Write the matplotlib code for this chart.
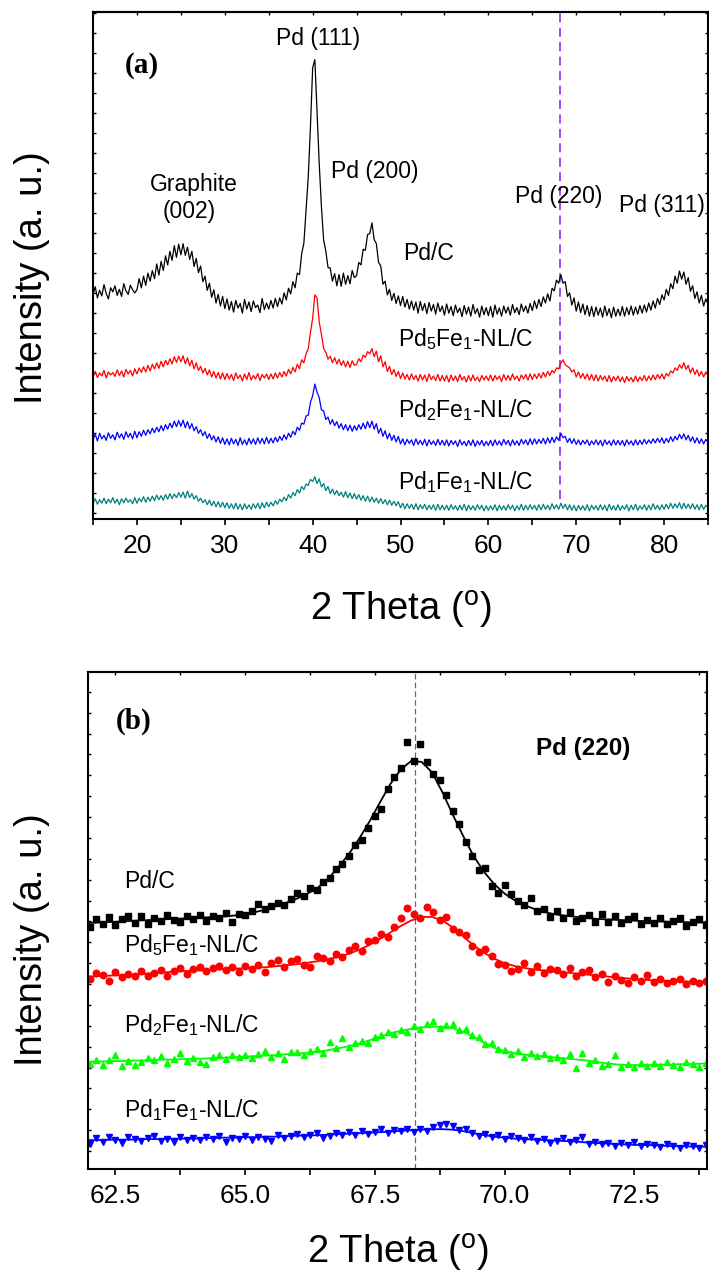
import numpy as np
import matplotlib
matplotlib.use('Agg')
import matplotlib.pyplot as plt
from matplotlib.ticker import MultipleLocator

plt.rcParams['font.family'] = ['Liberation Sans', 'DejaVu Sans']
plt.rcParams['mathtext.fontset'] = 'custom'
plt.rcParams['mathtext.rm'] = 'Liberation Sans'
plt.rcParams['mathtext.it'] = 'Liberation Sans:italic'
plt.rcParams['mathtext.bf'] = 'Liberation Sans:bold'
plt.rcParams['mathtext.default'] = 'regular'

# ---------------- panel (a): full XRD patterns, 15-85 deg, step 0.25 ----------------
two_theta = np.arange(15, 85.001, 0.25)

pd_c = [
    44.2, 45.8, 43.6, 45.1, 44.0, 46.2, 44.5, 43.4, 45.6, 44.8, 46.0, 44.1, 45.3, 43.9, 46.4, 45.0, 44.3, 46.1, 45.2, 44.6,
    45.2, 47.4, 45.6, 47.9, 46.1, 48.5, 46.9, 49.0, 47.4, 50.3, 48.1, 50.8, 49.0, 51.9, 50.1, 52.8, 51.0, 53.9, 51.6, 54.2,
    52.1, 54.3, 52.0, 53.6, 51.2, 52.8, 49.8, 51.4, 48.6, 49.9, 46.8, 47.9, 45.1, 46.5, 43.7, 45.2, 42.6, 44.3, 42.0, 43.9,
    41.5, 43.4, 41.2, 42.9, 40.8, 43.1, 41.6, 42.5, 40.6, 43.3, 41.4, 42.8, 40.9, 43.0, 41.7, 42.2, 40.7, 43.5, 41.3, 42.6,
    41.4, 43.1, 41.6, 43.5, 41.9, 43.6, 42.4, 44.6, 43.2, 45.5, 44.4, 46.8, 45.6, 48.5, 48.2, 52.3, 54.4, 60.8, 67.5, 77.4,
    89.0, 90.6, 80.5, 70.0, 61.5, 55.0, 52.8, 49.6, 49.5, 46.9, 48.4, 46.0, 48.2, 45.9, 48.5, 46.3, 48.0, 46.4, 49.0, 47.6,
    48.0, 50.6, 50.1, 53.2, 53.0, 56.1, 56.3, 58.4, 55.1, 54.3, 50.6, 49.9, 46.3, 46.9, 44.2, 45.3, 43.1, 44.5, 42.5, 44.0,
    42.1, 43.9, 41.8, 43.3, 41.4, 43.0, 41.2, 42.8, 40.6, 42.9, 41.1, 42.5, 40.5, 42.7, 41.0, 42.3, 40.4, 42.6, 40.9, 42.0,
    40.2, 42.4, 40.6, 41.9, 40.1, 42.2, 40.7, 41.6, 39.9, 42.1, 40.4, 41.8, 40.0, 42.3, 40.5, 41.5, 39.8, 42.0, 40.3, 41.7,
    40.1, 41.9, 39.8, 42.2, 40.4, 41.6, 40.0, 42.0, 40.6, 41.8, 40.2, 42.3, 40.7, 41.7, 40.3, 42.4, 40.9, 42.0, 40.6, 42.5,
    41.1, 43.0, 41.5, 43.3, 41.9, 43.8, 42.6, 44.4, 43.0, 45.5, 45.0, 47.1, 46.5, 48.2, 46.5, 46.8, 43.9, 44.6, 42.2, 43.6,
    41.0, 42.8, 40.7, 42.4, 40.3, 42.1, 40.0, 41.9, 39.9, 41.8, 40.2, 41.6, 39.8, 42.0, 40.1, 41.5, 39.7, 41.8, 40.0, 41.4,
    40.1, 41.9, 40.0, 41.7, 40.3, 42.0, 40.2, 41.8, 40.4, 42.1, 40.6, 42.2, 40.8, 42.6, 41.2, 43.0, 41.6, 43.5, 42.3, 44.2,
    43.2, 45.3, 44.1, 46.4, 45.4, 47.9, 46.5, 48.9, 47.3, 48.7, 46.3, 47.6, 44.9, 46.0, 43.5, 44.8, 42.6, 44.1, 42.0, 43.4,
    42.4,
]

pd5fe1 = [
    28.0, 29.1, 27.9, 28.8, 28.2, 29.3, 27.8, 29.0, 28.4, 28.9, 28.1, 29.4, 28.3, 29.2, 28.0, 29.5, 28.6, 29.3, 28.2, 29.6,
    28.6, 29.8, 28.9, 30.0, 29.0, 30.3, 29.2, 30.5, 29.6, 30.8, 29.7, 31.1, 30.0, 31.3, 30.4, 31.6, 30.6, 32.0, 30.9, 32.1,
    31.0, 32.2, 30.6, 31.8, 30.2, 31.3, 29.6, 30.8, 29.3, 30.1, 28.8, 29.7, 28.4, 29.4, 28.0, 29.1, 27.8, 28.9, 27.6, 28.8,
    27.5, 28.7, 27.6, 28.5, 27.3, 28.8, 27.7, 28.4, 27.2, 28.6, 27.5, 28.9, 27.4, 28.3, 27.6, 28.7, 27.3, 28.5, 27.8, 28.6,
    27.5, 28.6, 27.6, 28.8, 27.8, 28.9, 28.0, 29.1, 28.2, 29.5, 28.6, 29.9, 29.0, 30.5, 29.6, 31.4, 30.8, 32.6, 33.6, 36.8,
    39.6, 44.2, 43.6, 38.8, 36.4, 33.6, 32.9, 31.5, 32.1, 30.8, 31.8, 30.6, 31.5, 30.3, 31.2, 30.0, 31.1, 29.9, 31.2, 30.3,
    30.5, 31.6, 31.0, 32.3, 31.9, 33.0, 32.6, 33.6, 32.0, 33.1, 31.0, 32.2, 30.0, 31.0, 29.1, 30.1, 28.5, 29.5, 28.1, 29.1,
    27.7, 28.8, 27.6, 28.5, 27.4, 28.6, 27.5, 28.3, 27.2, 28.5, 27.4, 28.4, 27.1, 28.6, 27.5, 28.2, 27.3, 28.5, 27.2, 28.3,
    27.2, 28.3, 27.0, 28.4, 27.3, 28.2, 27.1, 28.5, 27.4, 28.1, 27.0, 28.3, 27.2, 28.4, 27.3, 28.0, 27.1, 28.3, 27.4, 28.2,
    27.3, 28.4, 27.2, 28.3, 27.5, 28.2, 27.1, 28.5, 27.4, 28.3, 27.3, 28.6, 27.5, 28.2, 27.2, 28.4, 27.6, 28.5, 27.4, 28.6,
    27.5, 28.6, 27.7, 28.7, 27.8, 28.9, 28.0, 29.1, 28.3, 29.3, 28.8, 29.8, 29.6, 30.7, 31.4, 30.4, 30.1, 29.8, 29.0, 29.4,
    28.0, 29.0, 27.8, 28.7, 27.6, 28.6, 27.4, 28.5, 27.3, 28.4, 27.2, 28.3, 27.4, 28.2, 27.1, 28.3, 27.0, 28.1, 27.3, 28.2,
    27.1, 28.0, 26.9, 28.1, 27.2, 27.9, 27.0, 28.2, 27.1, 28.0, 27.3, 28.3, 27.2, 28.2, 27.4, 28.4, 27.5, 28.5, 27.7, 28.6,
    27.6, 28.7, 28.2, 29.2, 28.8, 29.8, 29.3, 30.4, 29.7, 30.8, 29.5, 30.3, 28.8, 29.8, 28.5, 29.4, 28.2, 29.1, 28.0, 29.0,
    28.3,
]

pd2fe1 = [
    15.6, 16.7, 15.4, 16.9, 15.8, 16.5, 15.5, 17.0, 15.9, 16.6, 15.6, 17.1, 16.0, 16.8, 15.7, 17.2, 16.1, 16.9, 15.8, 17.3,
    16.0, 17.2, 16.3, 17.5, 16.5, 17.6, 16.8, 17.9, 17.0, 18.1, 17.2, 18.4, 17.4, 18.6, 17.7, 18.9, 18.0, 19.3, 18.2, 19.4,
    18.3, 19.5, 18.0, 19.2, 17.8, 18.8, 17.4, 18.2, 16.9, 17.6, 16.4, 17.2, 15.9, 16.8, 15.6, 16.4, 15.2, 16.2, 14.9, 16.0,
    14.7, 15.8, 14.6, 15.9, 14.8, 15.7, 14.5, 16.0, 14.7, 15.6, 14.6, 15.9, 14.8, 15.8, 14.7, 16.0, 14.9, 15.9, 14.8, 16.1,
    14.9, 15.9, 15.0, 16.1, 15.2, 16.3, 15.5, 16.6, 15.7, 16.9, 16.1, 17.3, 16.6, 18.1, 17.5, 18.9, 18.7, 20.3, 20.5, 23.0,
    24.3, 26.6, 25.0, 23.9, 21.5, 21.3, 19.6, 20.1, 18.7, 19.6, 18.4, 19.2, 17.9, 18.8, 17.6, 18.6, 17.4, 18.5, 17.3, 18.4,
    17.5, 18.6, 17.7, 18.9, 17.8, 19.2, 18.0, 19.3, 17.7, 18.8, 16.9, 17.9, 16.3, 17.4, 15.8, 16.9, 15.5, 16.5, 15.2, 16.3,
    14.8, 15.8, 14.6, 15.7, 14.9, 15.6, 14.5, 15.8, 14.7, 15.5, 14.6, 15.7, 14.4, 15.6, 14.7, 15.4, 14.5, 15.7, 14.6, 15.5,
    14.5, 15.6, 14.4, 15.5, 14.7, 15.4, 14.3, 15.6, 14.6, 15.3, 14.4, 15.5, 14.5, 15.6, 14.3, 15.4, 14.6, 15.5, 14.4, 15.3,
    14.5, 15.5, 14.4, 15.6, 14.6, 15.4, 14.5, 15.7, 14.7, 15.5, 14.4, 15.6, 14.6, 15.4, 14.5, 15.7, 14.8, 15.6, 14.6, 15.8,
    14.7, 15.8, 14.8, 15.7, 14.9, 15.9, 14.8, 16.0, 15.0, 16.1, 15.1, 16.2, 15.5, 16.9, 16.0, 16.3, 15.1, 15.9, 14.9, 15.8,
    14.7, 15.6, 14.6, 15.5, 14.8, 15.6, 14.5, 15.4, 14.7, 15.6, 14.6, 15.5, 14.4, 15.6, 14.7, 15.4, 14.5, 15.6, 14.6, 15.5,
    14.6, 15.5, 14.4, 15.6, 14.7, 15.4, 14.5, 15.6, 14.6, 15.5, 14.7, 15.7, 14.8, 15.6, 14.9, 15.8, 15.0, 15.9, 15.1, 16.0,
    14.9, 15.9, 15.1, 16.2, 15.3, 16.3, 15.6, 16.7, 15.8, 16.8, 15.6, 16.5, 15.3, 16.2, 15.0, 16.0, 14.9, 15.8, 14.8, 15.7,
    15.1,
]

pd1fe1 = [
    3.0, 4.0, 2.9, 3.8, 3.1, 4.1, 3.0, 3.9, 3.2, 4.2, 3.1, 3.9, 2.8, 4.0, 3.2, 4.1, 3.3, 3.8, 3.0, 4.2,
    3.1, 4.1, 3.4, 4.4, 3.3, 4.3, 3.5, 4.5, 3.6, 4.7, 3.8, 4.6, 3.7, 4.8, 3.9, 5.0, 4.0, 4.9, 4.2, 5.2,
    4.3, 5.3, 4.1, 5.5, 4.2, 5.0, 3.9, 4.6, 3.5, 4.1, 3.2, 3.8, 2.8, 3.7, 2.6, 3.5, 2.4, 3.4, 2.3, 3.3,
    2.2, 3.2, 2.1, 3.0, 2.0, 3.1, 1.9, 2.9, 1.8, 3.0, 2.0, 2.8, 1.9, 3.0, 2.1, 3.1, 2.0, 3.2, 2.2, 3.3,
    2.4, 3.3, 2.6, 3.6, 2.9, 3.9, 3.4, 4.3, 3.6, 4.8, 4.1, 5.2, 4.6, 5.8, 5.1, 6.4, 5.8, 6.9, 6.6, 7.8,
    7.4, 8.3, 7.0, 7.9, 6.3, 7.0, 5.6, 6.4, 5.0, 5.9, 4.8, 5.6, 4.6, 5.3, 4.3, 5.4, 4.2, 5.1, 4.0, 5.0,
    3.9, 4.8, 3.7, 4.6, 3.5, 4.5, 3.4, 4.3, 3.3, 4.1, 3.1, 4.0, 3.0, 3.8, 2.8, 3.7, 2.7, 3.5, 2.6, 3.4,
    2.2, 3.1, 2.0, 3.0, 2.1, 2.9, 1.9, 3.0, 1.8, 2.8, 2.0, 2.9, 1.8, 2.7, 1.9, 2.8, 1.7, 2.9, 1.8, 2.7,
    1.8, 2.7, 1.7, 2.8, 1.9, 2.6, 1.7, 2.7, 1.8, 2.9, 1.6, 2.7, 1.8, 2.6, 1.7, 2.8, 1.9, 2.7, 1.6, 2.6,
    1.7, 2.6, 1.8, 2.8, 1.6, 2.7, 1.8, 2.6, 1.7, 2.8, 1.9, 2.7, 1.6, 2.6, 1.8, 2.9, 1.7, 2.7, 1.8, 2.8,
    1.9, 2.7, 1.7, 2.8, 1.8, 2.9, 1.9, 2.7, 1.8, 3.0, 2.0, 2.8, 1.9, 3.1, 2.1, 2.9, 1.8, 2.8, 1.7, 2.7,
    1.6, 2.7, 1.8, 2.6, 1.7, 2.8, 1.6, 2.7, 1.9, 2.6, 1.7, 2.8, 1.8, 2.7, 1.6, 2.9, 1.8, 2.6, 1.7, 2.8,
    1.7, 2.6, 1.9, 2.8, 1.6, 2.7, 1.8, 2.9, 1.7, 2.6, 1.9, 2.8, 1.7, 2.7, 1.8, 3.0, 1.9, 2.7, 1.8, 2.8,
    1.9, 2.9, 2.0, 3.1, 2.1, 3.0, 2.2, 3.2, 2.0, 3.1, 2.1, 2.9, 2.0, 3.0, 1.9, 2.8, 1.8, 2.9, 1.9, 2.7,
    2.2,
]

pd220_line = 68.2

# ---------------- panel (b): Pd (220) region ----------------
theta_pts = np.arange(62.0, 73.9, 0.125)
theta_fit = np.arange(62.0, 74.05, 0.2)

b_pdc_pts = [
    48.6, 50.2, 49.3, 50.6, 49.0, 50.3, 50.8, 49.4,
    50.9, 49.2, 50.4, 49.8, 51.0, 50.1, 49.7, 50.8,
    50.2, 51.1, 49.8, 50.9, 50.5, 51.4, 49.6, 51.2,
    51.0, 51.9, 53.4, 52.3, 53.0, 53.6, 53.2, 54.3,
    55.6, 54.9, 56.5, 56.2, 57.8, 58.6, 60.4, 61.3,
    63.0, 65.2, 66.1, 68.7, 71.1, 72.4, 76.5, 78.9,
    80.6, 86.0, 82.1, 85.6, 81.8, 79.5, 78.2, 75.2,
    72.0, 69.5, 65.8, 63.0, 60.2, 60.5, 57.0, 55.6,
    57.1, 55.3, 54.0, 53.2, 54.6, 51.9, 52.4, 50.6,
    51.8, 50.5, 51.6, 49.8, 50.4, 51.0, 49.6, 51.3,
    49.7, 50.8, 49.4, 50.3, 50.9, 49.3, 50.1, 49.5,
    50.4, 49.2, 49.9, 50.5, 48.9, 49.6, 50.2, 49.1,
]
b_pdc_fit = [
    49.5, 49.6, 49.7, 49.8, 49.9, 50.0, 50.1, 50.2, 50.3, 50.4,
    50.5, 50.6, 50.7, 50.8, 51.0, 51.3, 51.7, 52.2, 52.9, 53.6,
    54.4, 55.4, 56.6, 58.4, 60.8, 63.4, 66.5, 70.0, 73.8, 77.5,
    80.4, 82.1, 81.9, 79.8, 75.8, 71.3, 67.0, 63.0, 59.8, 57.3,
    55.4, 54.0, 53.0, 52.2, 51.6, 51.2, 50.9, 50.7, 50.5, 50.3,
    50.2, 50.1, 50.0, 49.9, 49.8, 49.8, 49.7, 49.7, 49.6, 49.6,
    49.5,
]

b_pd5_pts = [
    38.2, 39.4, 39.0, 37.9, 39.6, 38.6, 39.3, 38.9,
    39.8, 38.8, 39.5, 40.1, 38.9, 39.9, 40.4, 39.2,
    40.2, 40.6, 39.8, 40.5, 40.9, 40.1, 40.7, 39.6,
    40.8, 40.3, 41.0, 39.7, 41.5, 42.0, 40.6, 41.9,
    42.3, 41.0, 40.6, 42.9, 42.4, 41.8, 43.2, 42.6,
    44.0, 44.8, 43.9, 45.9, 46.1, 47.2, 46.6, 48.6,
    50.4, 52.5, 51.2, 50.4, 52.8, 51.6, 50.0, 50.6,
    48.3, 47.6, 47.0, 44.9, 43.7, 44.2, 42.8, 41.3,
    41.0, 39.8, 40.3, 41.4, 39.6, 40.8, 39.4, 40.2,
    40.0, 39.3, 40.5, 38.8, 39.6, 40.1, 38.6, 39.3,
    37.7, 38.9, 38.1, 37.5, 38.6, 37.8, 39.1, 37.6,
    38.2, 37.4, 37.9, 38.3, 37.3, 37.8, 37.5, 37.9,
]
b_pd5_fit = [
    38.7, 38.8, 38.9, 39.0, 39.1, 39.2, 39.4, 39.5, 39.7, 39.8,
    39.9, 40.0, 40.1, 40.2, 40.3, 40.4, 40.5, 40.6, 40.8, 41.0,
    41.2, 41.5, 41.8, 42.2, 42.7, 43.3, 44.1, 45.1, 46.3, 47.6,
    48.9, 50.0, 50.7, 50.7, 50.0, 48.6, 46.8, 45.0, 43.5, 42.3,
    41.4, 40.8, 40.4, 40.1, 39.9, 39.7, 39.5, 39.3, 39.1, 38.9,
    38.7, 38.5, 38.3, 38.1, 38.0, 37.9, 37.8, 37.7, 37.7, 37.6,
    37.6,
]

b_pd2_pts = [
    21.2, 22.0, 21.0, 21.9, 22.9, 20.8, 21.8, 20.9,
    21.5, 22.4, 21.9, 22.7, 21.4, 22.1, 23.3, 21.8,
    22.4, 21.6, 21.1, 22.6, 22.9, 22.1, 23.0, 22.5,
    22.9, 22.3, 23.1, 23.7, 22.5, 23.4, 22.2, 23.6,
    23.5, 22.9, 23.8, 24.2, 23.4, 25.6, 24.4, 26.3,
    24.5, 25.3, 25.8, 25.4, 26.6, 26.9, 27.6, 27.2,
    28.0, 27.6, 28.7, 28.1, 29.1, 29.8, 28.4, 28.9,
    29.2, 27.9, 28.2, 26.9, 26.5, 25.1, 25.4, 24.2,
    23.9, 23.2, 23.8, 22.6, 23.4, 22.8, 23.2, 22.3,
    22.5, 22.0, 23.1, 20.3, 23.3, 21.3, 21.9, 20.8,
    21.2, 22.9, 20.6, 21.1, 20.5, 21.4, 20.8, 21.3,
    20.7, 21.5, 21.0, 20.5, 21.6, 21.1, 20.6, 21.4,
]
b_pd2_fit = [
    21.6, 21.6, 21.7, 21.7, 21.8, 21.8, 21.9, 22.0, 22.0, 22.1,
    22.2, 22.2, 22.3, 22.4, 22.5, 22.6, 22.7, 22.8, 22.9, 23.1,
    23.2, 23.4, 23.6, 23.9, 24.3, 24.7, 25.2, 25.9, 26.6, 27.3,
    27.8, 28.2, 28.5, 28.6, 28.6, 28.3, 27.6, 26.6, 25.4, 24.4,
    23.7, 23.3, 23.0, 22.8, 22.6, 22.4, 22.2, 22.0, 21.8, 21.5,
    21.2, 21.0, 20.9, 20.9, 20.9, 21.0, 21.0, 21.1, 21.1, 21.2,
    21.2,
]

b_pd1_pts = [
    5.0, 6.2, 5.5, 6.4, 5.9, 5.3, 6.5, 6.0,
    5.6, 6.3, 6.7, 5.7, 6.1, 5.4, 6.4, 5.9,
    6.2, 5.8, 6.5, 6.0, 6.6, 5.5, 6.3, 6.1,
    6.7, 5.8, 6.4, 6.1, 5.6, 6.8, 6.2, 6.6,
    7.0, 6.4, 6.9, 7.2, 6.3, 6.6, 7.3, 6.9,
    7.4, 6.8, 7.6, 7.0, 7.5, 8.0, 7.3, 7.9,
    7.6, 8.1, 7.5, 8.0, 7.7, 8.4, 8.9, 9.0,
    8.6, 7.8, 8.1, 7.3, 6.7, 7.1, 6.5, 6.9,
    6.0, 6.6, 6.2, 5.8, 6.4, 5.7, 6.1, 5.3,
    5.6, 6.2, 5.4, 5.9, 6.4, 5.0, 5.5, 5.1,
    5.3, 4.7, 5.2, 4.9, 5.5, 4.6, 5.0, 4.8,
    4.5, 5.1, 4.7, 4.3, 4.9, 4.6, 4.2, 4.8,
]
b_pd1_fit = [
    5.8, 5.8, 5.9, 5.9, 5.9, 6.0, 6.0, 6.0, 6.1, 6.1,
    6.1, 6.2, 6.2, 6.3, 6.3, 6.4, 6.4, 6.5, 6.5, 6.6,
    6.7, 6.7, 6.8, 6.9, 7.0, 7.1, 7.2, 7.3, 7.4, 7.5,
    7.7, 7.8, 7.9, 8.0, 8.0, 7.9, 7.6, 7.2, 6.8, 6.5,
    6.3, 6.1, 6.0, 5.9, 5.8, 5.7, 5.6, 5.5, 5.3, 5.2,
    5.1, 5.0, 4.9, 4.8, 4.8, 4.7, 4.6, 4.6, 4.5, 4.5,
    4.4,
]

pd220_line_b = 68.27

# ---------------- figure ----------------
fig = plt.figure(figsize=(7.09, 12.76), dpi=100)
ax1 = fig.add_axes([0.1312, 0.5933, 0.8674, 0.3973])
ax2 = fig.add_axes([0.1241, 0.0839, 0.8731, 0.3895])


def style_axes(ax, major, minor, yt):
    for s in ax.spines.values():
        s.set_linewidth(1.5)
    ax.xaxis.set_major_locator(MultipleLocator(major))
    ax.xaxis.set_minor_locator(MultipleLocator(minor))
    ax.tick_params(axis='x', which='both', direction='out', length=4.5, width=1.2,
                   labelsize=19, pad=6, top=False)
    ax.set_yticks(yt)
    ax.tick_params(axis='y', which='both', direction='in', length=2.5, width=1.0,
                   left=True, right=True, labelleft=False)
    top = ax.secondary_xaxis('top')
    top.xaxis.set_major_locator(MultipleLocator(major))
    top.xaxis.set_minor_locator(MultipleLocator(minor))
    top.tick_params(axis='x', which='both', direction='in', length=2.0, width=1.0,
                    labeltop=False)
    top.spines['top'].set_linewidth(1.5)


# panel (a)
ax1.plot(two_theta, pd_c, color='black', lw=0.9)
ax1.plot(two_theta, pd5fe1, color='#ff0000', lw=0.9)
ax1.plot(two_theta, pd2fe1, color='#0000ff', lw=0.9)
ax1.plot(two_theta, pd1fe1, color='#008080', lw=0.9)
ax1.plot([pd220_line, pd220_line], [4.0, 100], color='#9a3cf0', lw=1.3,
         dashes=(5, 3), zorder=1)
ax1.set_xlim(15, 85)
ax1.set_ylim(0, 100)
style_axes(ax1, 10, 5, np.arange(1.12, 100, 3.945))

fs = 16.5
ax1.text(20.6, 88.0, '(a)', fontsize=21, fontweight='bold', family='Liberation Serif',
         ha='center', va='baseline')
ax1.text(40.64, 93.5, 'Pd (111)', fontsize=fs, ha='center', va='baseline')
ax1.text(26.5, 64.6, 'Graphite', fontsize=fs, ha='center', va='baseline')
ax1.text(26.0, 59.3, '(002)', fontsize=fs, ha='center', va='baseline')
ax1.text(47.05, 67.2, 'Pd (200)', fontsize=fs, ha='center', va='baseline')
ax1.text(68.0, 62.3, 'Pd (220)', fontsize=fs, ha='center', va='baseline')
ax1.text(79.8, 60.6, 'Pd (311)', fontsize=fs, ha='center', va='baseline')
ax1.text(53.2, 51.1, 'Pd/C', fontsize=fs, ha='center', va='baseline')
ax1.text(49.7, 34.1, 'Pd$_5$Fe$_1$-NL/C', fontsize=fs, ha='left', va='baseline')
ax1.text(49.7, 20.1, 'Pd$_2$Fe$_1$-NL/C', fontsize=fs, ha='left', va='baseline')
ax1.text(49.7, 5.9, 'Pd$_1$Fe$_1$-NL/C', fontsize=fs, ha='left', va='baseline')

# panel (b)
ms = 4.3
ax2.plot(theta_fit, b_pdc_fit, color='black', lw=1.3)
ax2.plot(theta_pts, b_pdc_pts, ls='none', marker='s', ms=ms, color='black')
ax2.plot(theta_fit, b_pd5_fit, color='#ff0000', lw=1.3)
ax2.plot(theta_pts, b_pd5_pts, ls='none', marker='o', ms=ms + 0.4, color='#ff0000')
ax2.plot(theta_fit, b_pd2_fit, color='#00ff00', lw=1.3)
ax2.plot(theta_pts, b_pd2_pts, ls='none', marker='^', ms=ms + 0.6, color='#00ff00')
ax2.plot(theta_fit, b_pd1_fit, color='#0000ff', lw=1.3)
ax2.plot(theta_pts, b_pd1_pts, ls='none', marker='v', ms=ms + 0.6, color='#0000ff')
ax2.axvline(pd220_line_b, color='#a040a0', lw=0.9, dashes=(4.5, 2.5), zorder=1)
ax2.set_xlim(61.97, 73.9)
ax2.set_ylim(0, 100)
style_axes(ax2, 2.5, 1.25, np.arange(3.6, 100, 4.2))

ax2.text(62.85, 88.5, '(b)', fontsize=21, fontweight='bold', family='Liberation Serif',
         ha='center', va='baseline')
ax2.text(71.51, 83.3, 'Pd (220)', fontsize=17.5, fontweight='bold', ha='center', va='baseline')
ax2.text(62.66, 56.5, 'Pd/C', fontsize=fs, ha='left', va='baseline')
ax2.text(62.66, 43.7, 'Pd$_5$Fe$_1$-NL/C', fontsize=fs, ha='left', va='baseline')
ax2.text(62.66, 27.6, 'Pd$_2$Fe$_1$-NL/C', fontsize=fs, ha='left', va='baseline')
ax2.text(62.66, 10.4, 'Pd$_1$Fe$_1$-NL/C', fontsize=fs, ha='left', va='baseline')

# axis titles
fig.text(0.0451, 0.7821, 'Intensity (a. u.)', fontsize=27.5, rotation=90, ha='center', va='center')
fig.text(0.0451, 0.2633, 'Intensity (a. u.)', fontsize=27.5, rotation=90, ha='center', va='center')
fig.text(0.5650, 0.5219, '2 Theta ($^{o}$)', fontsize=27.5, ha='center', va='center')
fig.text(0.5613, 0.0180, '2 Theta ($^{o}$)', fontsize=27.5, ha='center', va='center')

fig.savefig('out.png', dpi=100)
